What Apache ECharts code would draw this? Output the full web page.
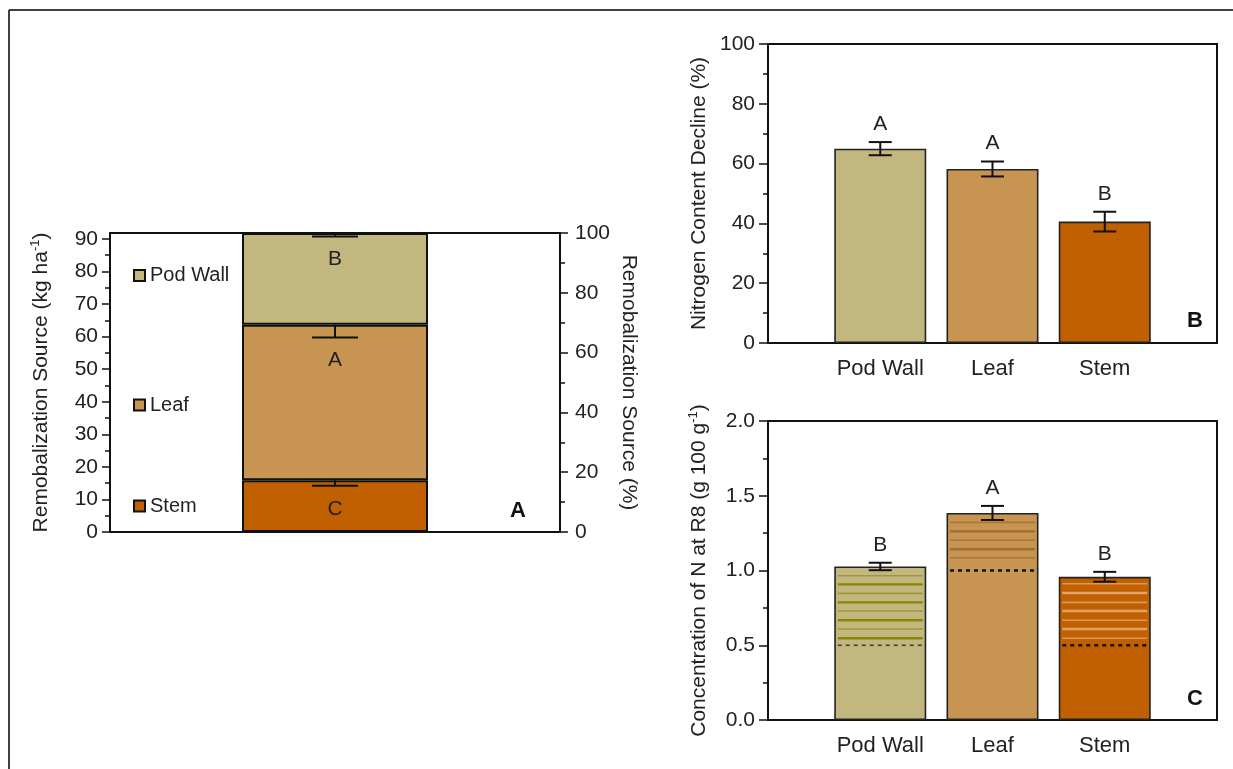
<!DOCTYPE html>
<html><head><meta charset="utf-8">
<script src="https://cdn.jsdelivr.net/npm/echarts@6/dist/echarts.min.js"></script>
<style>html,body{margin:0;padding:0;background:#fff}#c{width:1233px;height:769px}</style>
</head><body><div id="c"></div>
<script>
// ---------- data ----------
const organs = ['Pod Wall', 'Leaf', 'Stem'];
// Panel A: remobilization source (kg/ha), stacked
const remobKg = [28.2, 47.7, 15.9];
const remobErr = [1.1, 3.9, 1.7];
const remobLetters = ['B', 'A', 'C'];
const remobTicksKg = [0, 10, 20, 30, 40, 50, 60, 70, 80, 90];
const remobMinorTicksKg = [5, 15, 25, 35, 45, 55, 65, 75, 85];
const remobTicksPct = [0, 20, 40, 60, 80, 100];
// Panel B: nitrogen content decline (%)
const declinePct = [65.0, 58.2, 40.6];
const declineErr = [2.2, 2.5, 3.3];
const declineLetters = ['A', 'A', 'B'];
// Panel C: concentration of N at R8
const concN = [1.027, 1.385, 0.958];
const concErr = [0.025, 0.047, 0.033];
const concLetters = ['B', 'A', 'B'];
const hatchPodWall = [0.965, 0.907, 0.847, 0.787, 0.729, 0.667, 0.609, 0.547];
const hatchLeaf = [1.322, 1.262, 1.202, 1.142, 1.085];
const hatchStem = [0.911, 0.849, 0.787, 0.729, 0.667, 0.609, 0.547];
const refLevel = [0.5, 1.0, 0.5];

// ---------- style ----------
const FONT = "'Liberation Sans', Arial, Helvetica, sans-serif";
const COLORS = ['#C2B77E', '#C79452', '#C06000'];
const HATCH = [
  { thick: '#8A8700', thin: '#9C9838', dash: '#4a4a4a', dashW: 1.8 },
  { thick: '#A26E2E', thin: '#A8753A', dash: '#111111', dashW: 2.5 },
  { thick: '#E2A466', thin: '#D99A5C', dash: '#111111', dashW: 2.5 }
];
const INK = '#111';

const total = remobKg.reduce((a, b) => a + b, 0);
const catsBC = ['', ...organs, ''];

const chart = echarts.init(document.getElementById('c'));

function yAxisBase(extra) {
  return Object.assign({
    type: 'value',
    axisLine: { show: true, lineStyle: { color: INK, width: 2 } },
    axisTick: { show: true, inside: false, length: 9, lineStyle: { color: INK, width: 1.5 } },
    minorTick: { show: true, splitNumber: 2, length: 5, lineStyle: { color: INK, width: 1.5 } },
    splitLine: { show: false },
    minorSplitLine: { show: false },
    axisLabel: { color: '#222', fontSize: 21, fontFamily: FONT, margin: 13 },
    nameLocation: 'middle',
    nameTextStyle: {
      color: '#222', fontSize: 21, fontFamily: FONT, lineHeight: 24,
      rich: { sup: { fontSize: 13, fontFamily: FONT, color: '#222', verticalAlign: 'top', lineHeight: 13 } }
    }
  }, extra);
}
function xAxisCat(grid, data, showLabel) {
  return {
    type: 'category', gridIndex: grid, data: data, boundaryGap: grid === 0,
    axisLine: { show: true, lineStyle: { color: INK, width: 2 } },
    axisTick: { show: false },
    splitLine: { show: false },
    axisLabel: { show: showLabel, color: '#222', fontSize: 22, fontFamily: FONT, margin: 15, interval: 0 }
  };
}

const LETTER_FONT = '21px ' + FONT;

function errRenderBoth(letters, capHalf) {
  return function (params, api) {
    const x = api.value(0), y = api.value(1), e = api.value(2);
    const pt = api.coord([x, y + e]);
    const pb = api.coord([x, y - e]);
    const ls = { stroke: INK, lineWidth: 2 };
    return {
      type: 'group', children: [
        { type: 'line', shape: { x1: pt[0], y1: pt[1], x2: pb[0], y2: pb[1] }, style: ls },
        { type: 'line', shape: { x1: pt[0] - capHalf, y1: pt[1], x2: pt[0] + capHalf, y2: pt[1] }, style: ls },
        { type: 'line', shape: { x1: pb[0] - capHalf, y1: pb[1], x2: pb[0] + capHalf, y2: pb[1] }, style: ls },
        { type: 'text', x: pt[0], y: pt[1] - 18, style: {
            text: letters[params.dataIndex], fill: '#222', font: LETTER_FONT,
            align: 'center', verticalAlign: 'middle', textAlign: 'center', textVerticalAlign: 'middle' } }
      ]
    };
  };
}

// cumulative tops for stacked panel A (bottom: Stem, then Leaf, then Pod Wall)
const stackOrder = [2, 1, 0];
const cumTop = [0, 0, 0];
let acc = 0;
stackOrder.forEach(i => { acc += remobKg[i]; cumTop[i] = acc; });

const hatchData = [];
[hatchPodWall, hatchLeaf, hatchStem].forEach((arr, i) => {
  arr.forEach((v, j) => hatchData.push([i + 1, v, j % 2 === 0 ? 0 : 1, i]));
  hatchData.push([i + 1, refLevel[i], 2, i]);
});

const option = {
  animation: false,
  backgroundColor: '#fff',
  textStyle: { fontFamily: FONT },
  grid: [
    { left: 110, top: 233, width: 450, height: 299, show: true, borderColor: INK, borderWidth: 2, backgroundColor: 'transparent' },
    { left: 768, top: 44, width: 449, height: 299, show: true, borderColor: INK, borderWidth: 2, backgroundColor: 'transparent' },
    { left: 768, top: 421, width: 449, height: 299, show: true, borderColor: INK, borderWidth: 2, backgroundColor: 'transparent' }
  ],
  xAxis: [
    xAxisCat(0, ['Total'], false),
    xAxisCat(1, catsBC, true),
    xAxisCat(2, catsBC, true)
  ],
  yAxis: [
    yAxisBase({
      gridIndex: 0, min: 0, max: total, position: 'left',
      axisTick: { show: true, length: 8, customValues: remobTicksKg, lineStyle: { color: INK, width: 1.5 } },
      axisLabel: { color: '#222', fontSize: 21, fontFamily: FONT, margin: 12, customValues: remobTicksKg },
      minorTick: { show: false },
      name: 'Remobalization Source (kg ha{sup|-1})', nameGap: 57
    }),
    yAxisBase({
      gridIndex: 0, min: 0, max: total, position: 'left',
      axisLine: { show: false },
      axisTick: { show: true, length: 5, customValues: remobMinorTicksKg, lineStyle: { color: INK, width: 1.5 } },
      axisLabel: { show: false },
      minorTick: { show: false }
    }),
    yAxisBase({
      gridIndex: 0, min: 0, max: 100, interval: 20, position: 'right',
      axisTick: { show: true, length: 8, lineStyle: { color: INK, width: 1.5 } },
      axisLabel: { color: '#222', fontSize: 21, fontFamily: FONT, margin: 15, customValues: remobTicksPct },
      name: 'Remobalization Source (%)', nameGap: 57, nameRotate: -90
    }),
    yAxisBase({
      gridIndex: 1, min: 0, max: 100, interval: 20,
      name: 'Nitrogen Content Decline (%)', nameGap: 57
    }),
    yAxisBase({
      gridIndex: 2, min: 0, max: 2, interval: 0.5,
      axisLabel: { color: '#222', fontSize: 21, fontFamily: FONT, margin: 13, formatter: v => v.toFixed(1) },
      name: 'Concentration of N at R8 (g 100 g{sup|-1})', nameGap: 57
    })
  ],
  legend: organs.map((o, i) => ({
    data: [o], left: 128, top: [260.5, 390, 491][i], orient: 'vertical',
    itemWidth: 11, itemHeight: 11, icon: 'rect', selectedMode: false,
    textStyle: { fontSize: 20, color: '#222', fontFamily: FONT }
  })),
  series: [
    ...stackOrder.map(i => ({
      name: organs[i], type: 'bar', stack: 'remob', xAxisIndex: 0, yAxisIndex: 0,
      barWidth: 186, data: [remobKg[i]],
      itemStyle: { color: COLORS[i], borderColor: INK, borderWidth: 2 }
    })),
    {
      type: 'custom', xAxisIndex: 0, yAxisIndex: 0, z: 5,
      data: organs.map((o, i) => [0, cumTop[i], remobErr[i]]),
      renderItem: function (params, api) {
        const x = api.value(0), y = api.value(1), e = api.value(2);
        const pt = api.coord([x, y]);
        const pb = api.coord([x, y - e]);
        const ls = { stroke: INK, lineWidth: 2 };
        return { type: 'group', children: [
          { type: 'line', shape: { x1: pt[0], y1: pt[1], x2: pb[0], y2: pb[1] }, style: ls },
          { type: 'line', shape: { x1: pb[0] - 23, y1: pb[1], x2: pb[0] + 23, y2: pb[1] }, style: ls },
          { type: 'text', x: pb[0], y: pb[1] + 23, style: {
              text: remobLetters[params.dataIndex], fill: '#222', font: LETTER_FONT,
              align: 'center', verticalAlign: 'middle', textAlign: 'center', textVerticalAlign: 'middle' } }
        ] };
      }
    },
    {
      type: 'bar', xAxisIndex: 1, yAxisIndex: 3, barWidth: 92,
      data: ['-', ...declinePct.map((v, i) => ({ value: v, itemStyle: { color: COLORS[i] } })), '-'],
      itemStyle: { borderColor: '#222', borderWidth: 1.6 }
    },
    {
      type: 'custom', xAxisIndex: 1, yAxisIndex: 3, z: 5,
      data: organs.map((o, i) => [i + 1, declinePct[i], declineErr[i]]),
      renderItem: errRenderBoth(declineLetters, 11.5)
    },
    {
      type: 'bar', xAxisIndex: 2, yAxisIndex: 4, barWidth: 92,
      data: ['-', ...concN.map((v, i) => ({ value: v, itemStyle: { color: COLORS[i] } })), '-'],
      itemStyle: { borderColor: '#222', borderWidth: 1.6 }
    },
    {
      type: 'custom', xAxisIndex: 2, yAxisIndex: 4, z: 4,
      data: hatchData,
      renderItem: function (params, api) {
        const x = api.value(0), v = api.value(1), kind = api.value(2), oi = api.value(3);
        const p = api.coord([x, v]);
        const h = HATCH[oi];
        let style;
        if (kind === 2) style = { stroke: h.dash, lineWidth: h.dashW, lineDash: [4, 4] };
        else if (kind === 1) style = { stroke: h.thick, lineWidth: 2.4 };
        else style = { stroke: h.thin, lineWidth: 1.6 };
        const half = 42.5;
        return { type: 'line', shape: { x1: p[0] - half, y1: p[1], x2: p[0] + half, y2: p[1] }, style: style };
      }
    },
    {
      type: 'custom', xAxisIndex: 2, yAxisIndex: 4, z: 5,
      data: organs.map((o, i) => [i + 1, concN[i], concErr[i]]),
      renderItem: errRenderBoth(concLetters, 11.5)
    }
  ],
  graphic: [
    { type: 'line', shape: { x1: 9, y1: 10, x2: 9, y2: 769 }, style: { stroke: '#000', lineWidth: 1.5 } },
    { type: 'line', shape: { x1: 9, y1: 10, x2: 1233, y2: 10 }, style: { stroke: '#000', lineWidth: 1.5 } },
    { type: 'text', x: 518, y: 511, style: { text: 'A', font: 'bold 22px ' + FONT, fill: '#111', align: 'center', verticalAlign: 'middle', textAlign: 'center', textVerticalAlign: 'middle' } },
    { type: 'text', x: 1195, y: 321, style: { text: 'B', font: 'bold 22px ' + FONT, fill: '#111', align: 'center', verticalAlign: 'middle', textAlign: 'center', textVerticalAlign: 'middle' } },
    { type: 'text', x: 1195, y: 699, style: { text: 'C', font: 'bold 22px ' + FONT, fill: '#111', align: 'center', verticalAlign: 'middle', textAlign: 'center', textVerticalAlign: 'middle' } }
  ]
};
chart.setOption(option);
</script>
</body></html>
